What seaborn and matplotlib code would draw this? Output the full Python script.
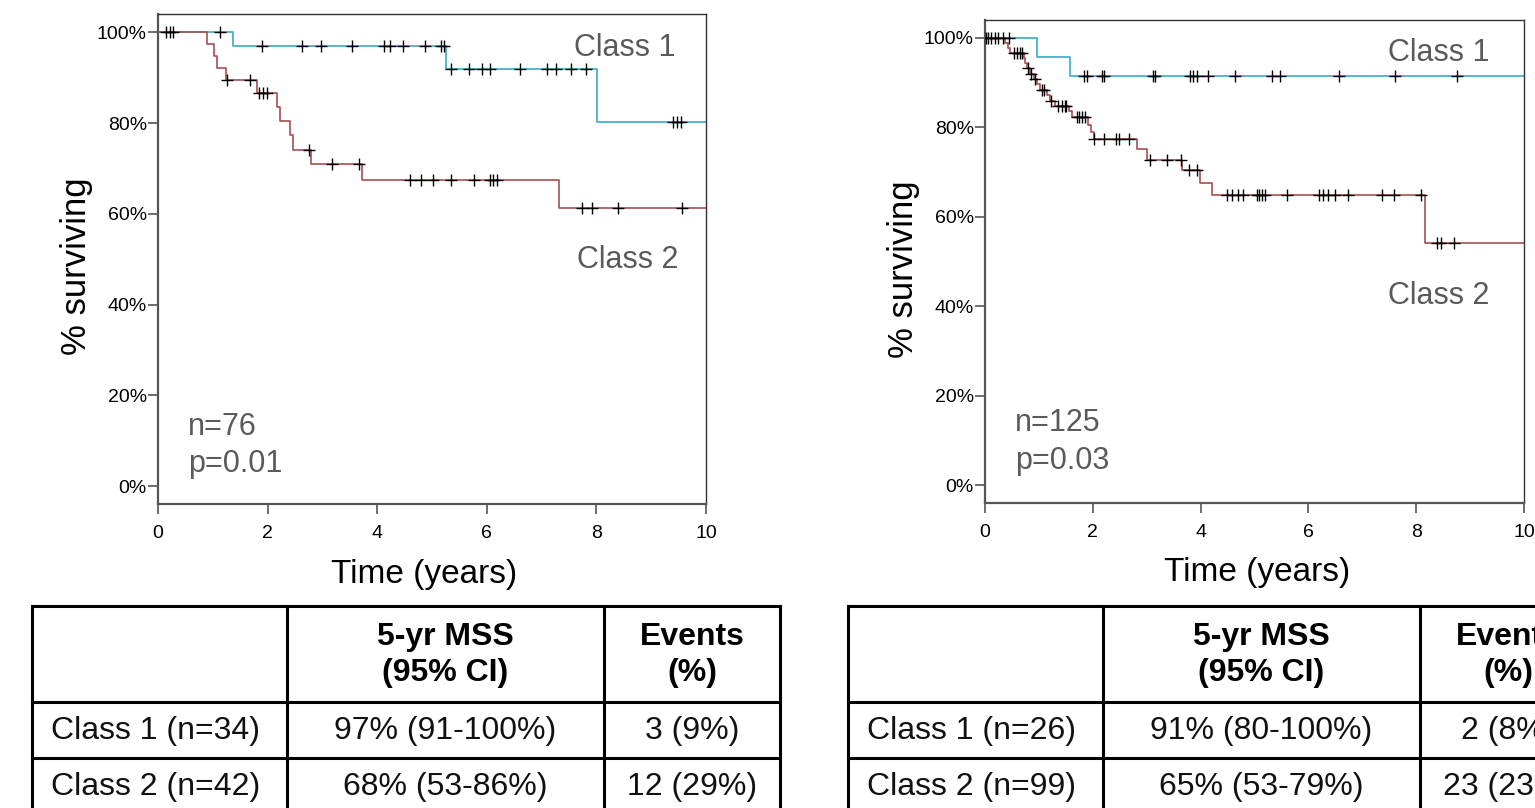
import numpy as np
import matplotlib
matplotlib.use('Agg')
import matplotlib.pyplot as plt
import seaborn as sns

# ---- left cohort (n=76) ----
a_c1_times = [1.37, 5.26, 8.02]
a_c1_surv = [97.0, 91.9, 80.2]
a_c1_cens = [0.15, 0.22, 1.13, 1.89, 2.62, 2.98, 3.54, 4.13, 4.23, 4.47, 4.87,
             5.16, 5.22, 5.35, 5.67, 5.92, 6.06, 6.60, 7.10, 7.27, 7.53, 7.81,
             9.40, 9.47, 9.54]
a_c2_times = [0.90, 1.03, 1.07, 1.24, 1.81, 2.18, 2.23, 2.40, 2.46, 2.79, 3.72, 7.31]
a_c2_surv = [97.4, 94.8, 92.2, 89.6, 86.7, 83.5, 80.4, 77.3, 74.2, 70.9, 67.5, 61.3]
a_c2_cens = [0.28, 1.25, 1.67, 1.85, 1.91, 1.99, 2.76, 3.18, 3.67, 4.60, 4.80,
             5.01, 5.35, 5.77, 6.06, 6.12, 6.19, 7.73, 7.92, 8.39, 9.57]

# ---- right cohort (n=125) ----
b_c1_times = [0.97, 1.58]
b_c1_surv = [95.8, 91.4]
b_c1_cens = [0.06, 0.19, 0.45, 1.84, 1.90, 2.17, 2.21, 3.12, 3.16, 3.80, 3.86,
             3.94, 4.13, 4.63, 5.32, 5.47, 6.57, 7.60, 8.75]
b_c2_times = [0.37, 0.42, 0.47, 0.72, 0.75, 0.78, 0.84, 0.90, 0.97, 1.02, 1.15,
              1.20, 1.30, 1.55, 1.61, 1.92, 1.97, 2.02, 2.82, 3.00, 3.66, 3.99,
              4.21, 8.17]
b_c2_surv = [98.9, 97.8, 96.6, 95.5, 94.3, 93.2, 92.0, 90.8, 89.6, 88.4, 87.2,
             86.0, 84.8, 83.6, 82.3, 80.5, 78.9, 77.3, 75.1, 72.8, 70.5, 67.6,
             64.9, 54.1]
b_c2_cens = [0.02, 0.12, 0.25, 0.33, 0.53, 0.59, 0.65, 0.68, 0.80, 0.86, 0.93,
             1.05, 1.10, 1.22, 1.36, 1.42, 1.48, 1.50, 1.70, 1.74, 1.80, 1.86,
             2.03, 2.21, 2.43, 2.48, 2.67, 3.06, 3.37, 3.63, 3.78, 3.94, 4.49,
             4.58, 4.69, 4.79, 5.05, 5.09, 5.14, 5.19, 5.60, 6.19, 6.28, 6.37,
             6.50, 6.73, 7.37, 7.58, 8.08, 8.39, 8.46, 8.70]

# ---- tables ----
a_tbl_rows = ['Class 1 (n=34)', 'Class 2 (n=42)']
a_tbl_mss = ['97% (91-100%)', '68% (53-86%)']
a_tbl_events = ['3 (9%)', '12 (29%)']
b_tbl_rows = ['Class 1 (n=26)', 'Class 2 (n=99)']
b_tbl_mss = ['91% (80-100%)', '65% (53-79%)']
b_tbl_events = ['2 (8%)', '23 (23%)']
tbl_header = ['', '5-yr MSS\n(95% CI)', 'Events\n(%)']

BLUE = '#37acc6'
RED = '#a6504f'
GREY_TXT = '#5a5a5a'

sns.set_theme(style='white')
plt.rcParams['font.family'] = ['Liberation Sans', 'DejaVu Sans']

fig = plt.figure(figsize=(15.35, 8.08), dpi=100)


def km_curve(ax, times, surv, cens, color):
    xs = [0.0] + list(times) + [10.0]
    ys = [100.0] + list(surv) + [surv[-1]]
    sns.lineplot(x=xs, y=ys, drawstyle='steps-post', color=color, lw=1.2,
                 estimator=None, ax=ax, zorder=2)
    levels = np.array([100.0] + list(surv))
    idx = np.searchsorted(np.array(times), np.array(cens), side='right')
    sns.scatterplot(x=cens, y=levels[idx], marker='+', color='black', s=75,
                    linewidth=1.0, ax=ax, zorder=3, legend=False)


def style_axes(ax, ylab_x, xlab_x):
    ax.set_xlim(0, 10)
    ax.set_ylim(-4, 104)
    ax.set_xticks([0, 2, 4, 6, 8, 10])
    ax.set_yticks([0, 20, 40, 60, 80, 100])
    ax.set_yticklabels(['0%', '20%', '40%', '60%', '80%', '100%'])
    ax.tick_params(axis='both', which='major', direction='out', length=7,
                   width=1.2, color='#555555', labelsize=14, labelcolor='black',
                   left=True, bottom=True)
    ax.tick_params(axis='y', pad=1)
    ax.tick_params(axis='x', pad=8)
    for side in ['left', 'bottom']:
        ax.spines[side].set_color('#555555')
        ax.spines[side].set_linewidth(1.6)
    for side in ['top', 'right']:
        ax.spines[side].set_color('#333333')
        ax.spines[side].set_linewidth(1.0)
    ax.set_xlabel('Time (years)', fontsize=24, color='black')
    ax.set_ylabel('% surviving', fontsize=25, color='black')
    ax.xaxis.set_label_coords(xlab_x, -0.112)
    ax.yaxis.set_label_coords(ylab_x, 0.485)


# left chart
ax1 = fig.add_axes([158 / 1535, (808 - 504.3) / 808, 548 / 1535, 490 / 808])
km_curve(ax1, a_c1_times, a_c1_surv, a_c1_cens, BLUE)
km_curve(ax1, a_c2_times, a_c2_surv, a_c2_cens, RED)
style_axes(ax1, -0.118, 0.486)
ax1.text(7.6, 94.8, 'Class 1', fontsize=22, color=GREY_TXT, ha='left', va='baseline')
ax1.text(7.65, 48.0, 'Class 2', fontsize=22, color=GREY_TXT, ha='left', va='baseline')
ax1.text(0.55, 11.2, 'n=76', fontsize=22, color=GREY_TXT, ha='left', va='baseline')
ax1.text(0.55, 3.1, 'p=0.01', fontsize=22, color=GREY_TXT, ha='left', va='baseline')

# right chart
ax2 = fig.add_axes([985 / 1535, (808 - 503.3) / 808, 539 / 1535, 483.3 / 808])
km_curve(ax2, b_c1_times, b_c1_surv, b_c1_cens, BLUE)
km_curve(ax2, b_c2_times, b_c2_surv, b_c2_cens, RED)
style_axes(ax2, -0.12, 0.505)
ax2.text(7.48, 94.9, 'Class 1', fontsize=22, color=GREY_TXT, ha='left', va='baseline')
ax2.text(7.48, 40.6, 'Class 2', fontsize=22, color=GREY_TXT, ha='left', va='baseline')
ax2.text(0.56, 12.2, 'n=125', fontsize=22, color=GREY_TXT, ha='left', va='baseline')
ax2.text(0.56, 3.7, 'p=0.03', fontsize=22, color=GREY_TXT, ha='left', va='baseline')

# tables drawn in pixel space
tab = fig.add_axes([0, 0, 1, 1], zorder=-1)
tab.set_xlim(0, 1535)
tab.set_ylim(808, 0)
tab.axis('off')


def draw_table(x0, rows, mss, events):
    cols = [x0, x0 + 255, x0 + 572, x0 + 748]
    rlines = [606, 702, 758, 814]
    for y in rlines:
        tab.plot([cols[0], cols[-1]], [y, y], color='black', lw=2.2,
                 solid_capstyle='projecting')
    for x in cols:
        tab.plot([x, x], [rlines[0], rlines[-1]], color='black', lw=2.2,
                 solid_capstyle='projecting')
    centers = [(cols[i] + cols[i + 1]) / 2 for i in range(3)]
    for c, h in zip(centers, tbl_header):
        tab.text(c, 655, h, fontsize=23, fontweight='bold', ha='center',
                 va='center', linespacing=1.3, color='black')
    for r, (lab, m, e) in enumerate(zip(rows, mss, events)):
        yc = (rlines[r + 1] + rlines[r + 2]) / 2 + 1
        for c, t in zip(centers, [lab, m, e]):
            tab.text(c - (4 if c == centers[0] else 0), yc, t, fontsize=23,
                     ha='center', va='center', color='#111111')


draw_table(32, a_tbl_rows, a_tbl_mss, a_tbl_events)
draw_table(848, b_tbl_rows, b_tbl_mss, b_tbl_events)

fig.savefig('out.png', dpi=100, facecolor='white')
